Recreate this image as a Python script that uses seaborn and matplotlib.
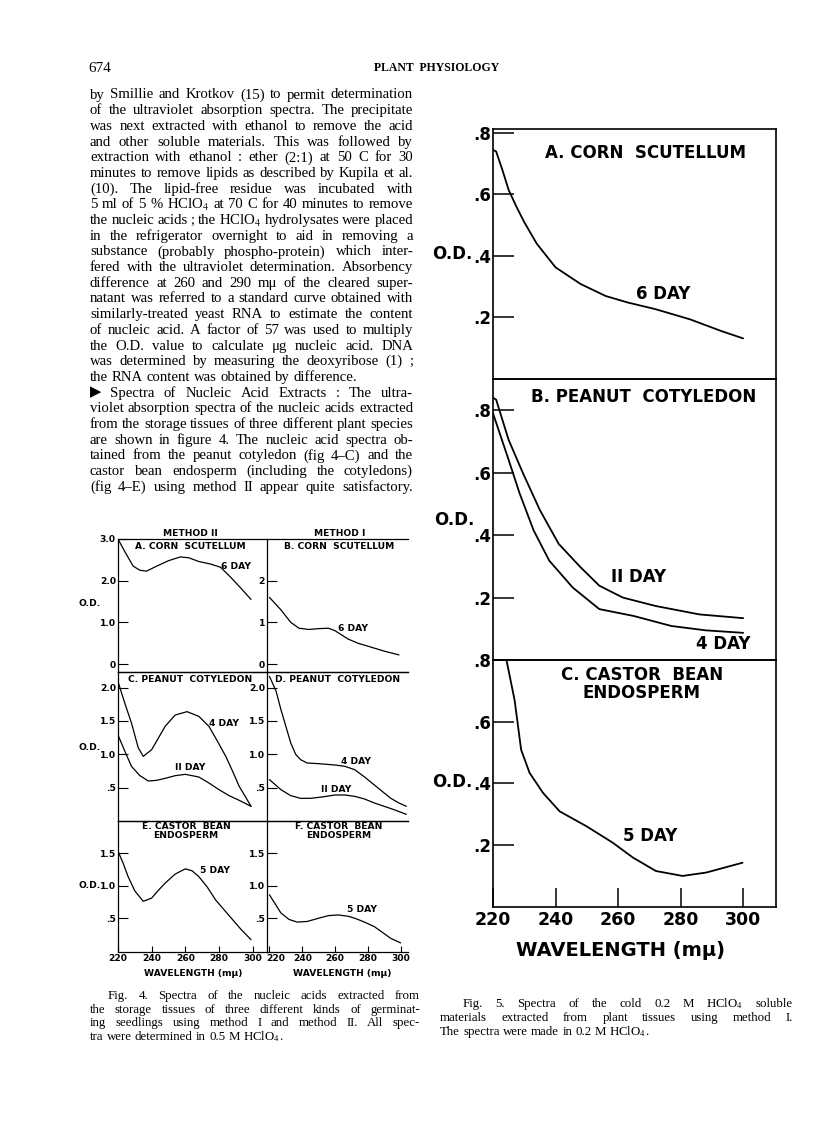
import matplotlib
matplotlib.use("Agg")
import matplotlib.pyplot as plt
from matplotlib.transforms import ScaledTranslation
import seaborn as sns

W, H = 816, 1121

# Fig. 4 - nucleic acid spectra, wavelength (m-mu) vs O.D.
wl_4a = [220, 224, 229, 233, 237, 242, 250, 257, 262, 268, 275, 281, 287, 293, 299]
od_4a = [3.0, 2.7, 2.35, 2.25, 2.23, 2.33, 2.48, 2.57, 2.55, 2.46, 2.4, 2.32, 2.08, 1.82, 1.55]

wl_4b = [220, 227, 233, 238, 244, 250, 256, 260, 264, 268, 274, 280, 290, 299]
od_4b = [1.6, 1.3, 1.0, 0.86, 0.83, 0.85, 0.86, 0.8, 0.7, 0.6, 0.5, 0.43, 0.31, 0.22]

wl_4c_4day = [220, 224, 228, 232, 235, 240, 248, 254, 261, 268, 274, 279, 284, 288, 292, 296, 299]
od_4c_4day = [2.09, 1.77, 1.47, 1.1, 0.97, 1.07, 1.42, 1.59, 1.64, 1.57, 1.42, 1.2, 0.97, 0.75, 0.52, 0.35, 0.22]
wl_4c_11day = [220, 224, 228, 233, 238, 243, 248, 254, 260, 268, 274, 280, 286, 292, 299]
od_4c_11day = [1.29, 1.05, 0.82, 0.68, 0.6, 0.61, 0.64, 0.68, 0.7, 0.66, 0.57, 0.47, 0.38, 0.31, 0.22]

wl_4d_4day = [220, 224, 227, 230, 233, 236, 239, 243, 250, 260, 266, 272, 278, 284, 289, 294, 299, 303.5]
od_4d_4day = [2.17, 1.95, 1.67, 1.42, 1.17, 1.0, 0.92, 0.87, 0.86, 0.84, 0.82, 0.77, 0.66, 0.54, 0.44, 0.34, 0.27, 0.22]
wl_4d_11day = [220, 227, 233, 239, 245, 252, 260, 266, 272, 278, 284, 290, 296, 303.5]
od_4d_11day = [0.62, 0.47, 0.38, 0.34, 0.34, 0.36, 0.39, 0.39, 0.37, 0.33, 0.27, 0.22, 0.17, 0.1]

wl_4e = [220, 223, 226, 230, 235, 240, 244, 248, 254, 260, 264, 268, 273, 278, 283, 288, 293, 299]
od_4e = [1.53, 1.35, 1.14, 0.92, 0.76, 0.81, 0.93, 1.04, 1.18, 1.26, 1.23, 1.14, 0.98, 0.78, 0.63, 0.48, 0.33, 0.17]

wl_4f = [220, 224, 227, 232, 237, 243, 250, 256, 262, 268, 272, 278, 284, 289, 294, 300]
od_4f = [0.86, 0.7, 0.58, 0.48, 0.44, 0.45, 0.5, 0.54, 0.55, 0.53, 0.5, 0.44, 0.37, 0.28, 0.19, 0.12]

# Fig. 5 - cold HClO4 soluble material
wl_5a = [220, 221, 223, 225, 227.5, 230, 234, 240, 248, 256, 263, 272, 283, 293, 300]
od_5a = [0.745, 0.74, 0.68, 0.615, 0.56, 0.51, 0.44, 0.363, 0.309, 0.27, 0.249, 0.227, 0.194, 0.156, 0.132]

wl_5b_11day = [220, 221, 225, 229.6, 235, 241, 248, 254, 261.5, 272, 286, 300]
od_5b_11day = [0.84, 0.834, 0.705, 0.598, 0.48, 0.372, 0.297, 0.238, 0.2, 0.173, 0.146, 0.134]
wl_5b_4day = [220, 225, 228.5, 233, 238, 245.5, 254, 265, 277, 288, 300]
od_5b_4day = [0.79, 0.641, 0.534, 0.415, 0.318, 0.232, 0.163, 0.141, 0.109, 0.095, 0.087]

wl_5c = [224.3, 226.9, 229, 231.7, 236, 241.3, 249.8, 258.3, 264.7, 272.1, 280.6, 288.2, 299.8]
od_5c = [0.8, 0.67, 0.508, 0.433, 0.368, 0.308, 0.26, 0.206, 0.158, 0.114, 0.098, 0.109, 0.141]

x_ticks = [220, 240, 260, 280, 300]
x_ticklabels = ["220", "240", "260", "280", "300"]
yt_4_top = [0, 1, 2, 3]
ytl_4a = ["0", "1.0", "2.0", "3.0"]
yt_4b = [0, 1, 2]
ytl_4b = ["0", "1", "2"]
yt_4_mid = [0.5, 1.0, 1.5, 2.0]
ytl_4_mid = [".5", "1.0", "1.5", "2.0"]
yt_4_bot = [0.5, 1.0, 1.5]
ytl_4_bot = [".5", "1.0", "1.5"]
yt_5 = [0.2, 0.4, 0.6, 0.8]
ytl_5 = [".2", ".4", ".6", ".8"]

# page text
header_page = "674"
header_journal = "PLANT  PHYSIOLOGY"
body_lines = [
    "by Smillie and Krotkov (15) to permit determination",
    "of the ultraviolet absorption spectra.  The precipitate",
    "was next extracted with ethanol to remove the acid",
    "and other soluble materials.  This was followed by",
    "extraction with ethanol : ether (2:1) at 50 C for 30",
    "minutes to remove lipids as described by Kupila et al.",
    "(10).  The lipid-free residue was incubated with",
    "5 ml of 5 % HClO$_4$ at 70 C for 40 minutes to remove",
    "the nucleic acids ; the HClO$_4$ hydrolysates were placed",
    "in the refrigerator overnight to aid in removing a",
    "substance (probably phospho-protein) which inter-",
    "fered with the ultraviolet determination.  Absorbency",
    "difference at 260 and 290 m\u03bc of the cleared super-",
    "natant was referred to a standard curve obtained with",
    "similarly-treated yeast RNA to estimate the content",
    "of nucleic acid.  A factor of 57 was used to multiply",
    "the O.D. value to calculate \u03bcg nucleic acid.  DNA",
    "was determined by measuring the deoxyribose (1) ;",
    "the RNA content was obtained by difference.",
    "\u25b6 Spectra of Nucleic Acid Extracts :  The ultra-",
    "violet absorption spectra of the nucleic acids extracted",
    "from the storage tissues of three different plant species",
    "are shown in figure 4.  The nucleic acid spectra ob-",
    "tained from the peanut cotyledon (fig 4\u2013C) and the",
    "castor bean endosperm (including the cotyledons)",
    "(fig 4\u2013E) using method II appear quite satisfactory.",
]
cap4_lines = [
    "Fig. 4.  Spectra of the nucleic acids extracted from",
    "the storage tissues of three different kinds of germinat-",
    "ing seedlings using method I and method II.  All spec-",
    "tra were determined in 0.5 M  HClO$_4$.",
]
cap5_lines = [
    "Fig. 5.  Spectra of the cold 0.2 M HClO$_4$ soluble",
    "materials extracted from plant tissues using method I.",
    "The spectra were made in 0.2 M  HClO$_4$.",
]

sns.set_style("ticks")
plt.rcParams["font.family"] = ["DejaVu Sans"]
plt.rcParams["mathtext.fontset"] = "stix"
plt.rcParams["axes.edgecolor"] = "black"
plt.rcParams["text.color"] = "black"
plt.rcParams["xtick.color"] = "black"
plt.rcParams["ytick.color"] = "black"
SERIF = ["Liberation Serif", "DejaVu Serif", "DejaVu Sans"]

fig = plt.figure(figsize=(W / 100, H / 100), dpi=100)
renderer = fig.canvas.get_renderer()


def box(x0, y0, x1, y1):
    # axes from pixel corners (top-left origin)
    ax = fig.add_axes([x0 / W, 1 - y1 / H, (x1 - x0) / W, (y1 - y0) / H])
    ax.set_facecolor("none")
    return ax


def ftext(x, y, s, **kw):
    return fig.text(x / W, 1 - y / H, s, **kw)


def curve(ax, wl, od, lw):
    sns.lineplot(x=wl, y=od, ax=ax, color="black", lw=lw, sort=False, estimator=None)


def justify(lines, x0, x1, y0, dy, size, indent=0, ragged=()):
    space = 0.25 * size * 100 / 72
    for i, line in enumerate(lines):
        words = line.split()
        arts = [ftext(0, y0 + i * dy, w, fontsize=size, family=SERIF, va="center") for w in words]
        widths = [a.get_window_extent(renderer).width for a in arts]
        left = x0 + (indent if i == 0 else 0)
        if i in ragged or len(words) < 2:
            gap = space
        else:
            gap = max((x1 - left - sum(widths)) / (len(words) - 1), 1.5)
        x = left
        for a, w in zip(arts, widths):
            a.set_x(x / W)
            x += w + gap


# ---------- Fig. 4 ----------
F4 = dict(fontweight="bold", fontsize=6.6)
L4, M4, R4 = 118, 267, 408
rows4 = [(539, 672), (672, 821), (821, 952)]


def panel4(ax, left_col, ylim, yt, ytl, bottom):
    ax.set_xlim(*((220, 308.5) if left_col else (218.5, 304.5)))
    ax.set_ylim(*ylim)
    ax.set_yticks(yt)
    ax.set_yticklabels(ytl, **F4)
    ax.tick_params(axis="y", direction="in", length=7, width=0.8, pad=1.5)
    ax.spines["right"].set_visible(False)
    for s in ax.spines.values():
        s.set_linewidth(0.9)
    if bottom:
        ax.set_xticks(x_ticks)
        ax.set_xticklabels(x_ticklabels, **F4)
        ax.tick_params(axis="x", direction="in", length=4, width=0.8, pad=1.5)
        if not left_col:
            first = ax.get_xticklabels()[0]
            first.set_transform(first.get_transform() + ScaledTranslation(0.06, 0, fig.dpi_scale_trans))
    else:
        ax.set_xticks([])
    ax.set_xlabel("")
    ax.set_ylabel("")


ax = box(L4, rows4[0][0], M4, rows4[0][1])
curve(ax, wl_4a, od_4a, 0.9)
panel4(ax, True, (-0.19, 3.0), yt_4_top, ytl_4a, False)
ax.text(0.483, 0.94, "A. CORN  SCUTELLUM", transform=ax.transAxes, ha="center", va="center", **F4)
ax.text(281, 2.34, "6 DAY", ha="left", va="center", **F4)

ax = box(M4, rows4[0][0], R4, rows4[0][1])
curve(ax, wl_4b, od_4b, 0.9)
panel4(ax, False, (-0.19, 3.0), yt_4b, ytl_4b, False)
ax.text(0.51, 0.94, "B. CORN  SCUTELLUM", transform=ax.transAxes, ha="center", va="center", **F4)
ax.text(262, 0.86, "6 DAY", ha="left", va="center", **F4)

ax = box(L4, rows4[1][0], M4, rows4[1][1])
curve(ax, wl_4c_4day, od_4c_4day, 0.9)
curve(ax, wl_4c_11day, od_4c_11day, 0.9)
panel4(ax, True, (0, 2.235), yt_4_mid, ytl_4_mid, False)
ax.text(0.483, 0.953, "C. PEANUT  COTYLEDON", transform=ax.transAxes, ha="center", va="center", **F4)
ax.text(274, 1.47, "4 DAY", ha="left", va="center", **F4)
ax.text(254, 0.8, "II DAY", ha="left", va="center", **F4)

ax = box(M4, rows4[1][0], R4, rows4[1][1])
curve(ax, wl_4d_4day, od_4d_4day, 0.9)
curve(ax, wl_4d_11day, od_4d_11day, 0.9)
panel4(ax, False, (0, 2.235), yt_4_mid, ytl_4_mid, False)
ax.text(0.5, 0.953, "D. PEANUT  COTYLEDON", transform=ax.transAxes, ha="center", va="center", **F4)
ax.text(263.5, 0.89, "4 DAY", ha="left", va="center", **F4)
ax.text(251.5, 0.48, "II DAY", ha="left", va="center", **F4)

ax = box(L4, rows4[2][0], M4, rows4[2][1])
curve(ax, wl_4e, od_4e, 0.9)
panel4(ax, True, (-0.02, 1.996), yt_4_bot, ytl_4_bot, True)
ax.text(0.456, 0.925, "E. CASTOR  BEAN\nENDOSPERM", transform=ax.transAxes, ha="center", va="center",
        linespacing=1.0, **F4)
ax.text(269, 1.24, "5 DAY", ha="left", va="center", **F4)

ax = box(M4, rows4[2][0], R4, rows4[2][1])
curve(ax, wl_4f, od_4f, 0.9)
panel4(ax, False, (-0.02, 1.996), yt_4_bot, ytl_4_bot, True)
ax.text(0.51, 0.925, "F. CASTOR  BEAN\nENDOSPERM", transform=ax.transAxes, ha="center", va="center",
        linespacing=1.0, **F4)
ax.text(267.5, 0.63, "5 DAY", ha="left", va="center", **F4)

ftext(190, 533, "METHOD II", ha="center", va="center", **F4)
ftext(340, 533, "METHOD I", ha="center", va="center", **F4)
for y in (603, 747, 886):
    ftext(101, y, "O.D.", ha="right", va="center", **F4)
ftext(193, 973, "WAVELENGTH (m\u03bc)", ha="center", va="center", **F4)
ftext(342, 973, "WAVELENGTH (m\u03bc)", ha="center", va="center", **F4)

# ---------- Fig. 5 ----------
L5, R5 = 493, 776
rows5 = [(129, 379, (0, 0.813)), (379, 660, (0, 0.9)), (660, 907, (-0.003, 0.8))]
axes5 = []
for i, (y0, y1, ylim) in enumerate(rows5):
    ax = box(L5, y0, R5, y1)
    axes5.append(ax)
    ax.set_xlim(220, 310.5)
    ax.set_ylim(*ylim)
    ax.set_yticks(yt_5)
    ax.set_yticklabels(ytl_5, fontweight="bold", fontsize=12)
    ax.tick_params(axis="y", direction="in", length=15, width=1.1, pad=1)
    for s in ax.spines.values():
        s.set_linewidth(1.2)
    if i == 2:
        ax.set_xticks(x_ticks)
        ax.set_xticklabels(x_ticklabels, fontweight="bold", fontsize=12.5)
        ax.tick_params(axis="x", direction="in", length=14, width=1.1, pad=3)
    else:
        ax.set_xticks([])

F5 = dict(fontweight="bold", fontsize=12)
ax = axes5[0]
curve(ax, wl_5a, od_5a, 1.3)
ax.text(0.54, 0.903, "A. CORN  SCUTELLUM", transform=ax.transAxes, ha="center", va="center", **F5)
ax.text(265.7, 0.276, "6 DAY", ha="left", va="center", **F5)

ax = axes5[1]
curve(ax, wl_5b_11day, od_5b_11day, 1.3)
curve(ax, wl_5b_4day, od_5b_4day, 1.3)
ax.text(0.534, 0.937, "B. PEANUT  COTYLEDON", transform=ax.transAxes, ha="center", va="center", **F5)
ax.text(257.8, 0.265, "II DAY", ha="left", va="center", **F5)
ax.text(284.9, 0.05, "4 DAY", ha="left", va="center", **F5)

ax = axes5[2]
curve(ax, wl_5c, od_5c, 1.3)
ax.text(0.525, 0.903, "C. CASTOR  BEAN\nENDOSPERM", transform=ax.transAxes, ha="center", va="center",
        linespacing=1.0, **F5)
ax.text(261.5, 0.228, "5 DAY", ha="left", va="center", **F5)

for ax in axes5:
    ax.set_xlabel("")
    ax.set_ylabel("")

ftext(472, 254, "O.D.", ha="right", va="center", **F5)
ftext(474, 520, "O.D.", ha="right", va="center", **F5)
ftext(472, 782, "O.D.", ha="right", va="center", **F5)
ftext(620, 950, "WAVELENGTH (m\u03bc)", ha="center", va="center", fontweight="bold", fontsize=14)

# ---------- page text ----------
ftext(88, 68, header_page, fontsize=11, family=SERIF, va="center")
ftext(499, 68, header_journal, fontsize=8.5, family=SERIF, fontweight="bold", ha="right", va="center")
justify(body_lines, 90, 413, 95, 15.69, 10.6, ragged=(18,))
justify(cap4_lines, 90, 420, 996, 13.7, 9.3, indent=18, ragged=(3,))
justify(cap5_lines, 440, 793, 1004, 14.0, 9.3, indent=23, ragged=(2,))

fig.savefig("out.png", dpi=100)
plt.close(fig)
